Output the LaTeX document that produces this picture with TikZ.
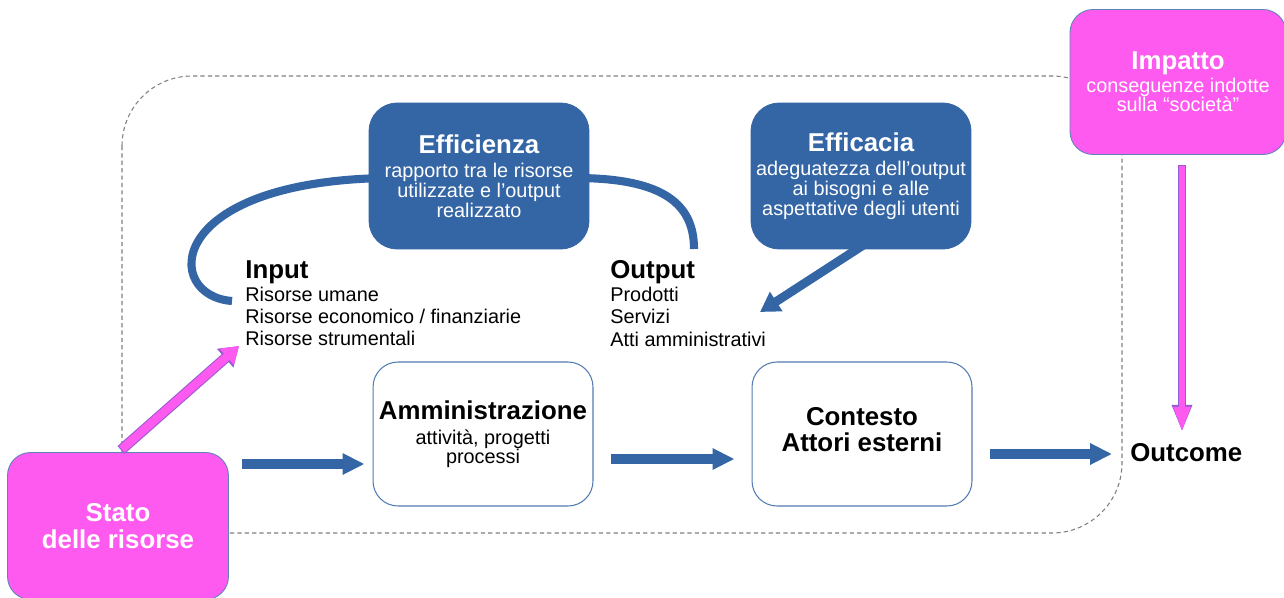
\documentclass[tikz,border=0pt]{standalone}
\usepackage{fontspec}
\setmainfont{Liberation Sans}
\usetikzlibrary{arrows.meta,calc}
\definecolor{eblue}{HTML}{3465A4}
\definecolor{epink}{RGB}{255,90,240}
\definecolor{pinkedge}{RGB}{150,90,210}
\definecolor{dgray}{RGB}{128,128,128}
\newcommand\ttlf{\fontsize{14.7}{15.5}\selectfont\bfseries}
\newcommand\bdyf{\fontsize{11.3}{11.3}\selectfont}
\newcommand\lstf{\fontsize{11.3}{12.7}\selectfont}
\begin{document}
\begin{tikzpicture}[x=0.02cm,y=-0.02cm,
  every node/.style={inner sep=0pt},
  bluebox/.style={fill=eblue, draw=eblue, rounded corners=0.56cm, minimum width=4.4cm, minimum height=2.92cm, align=center, text=white, font=\bdyf},
  pinkbox/.style={fill=epink, draw=eblue!80, line width=0.5pt, rounded corners=0.46cm, align=center, text=white},
  whitebox/.style={fill=white, draw=eblue!85, line width=0.6pt, rounded corners=0.5cm, minimum width=4.4cm, minimum height=2.88cm, align=center},
  blarrow/.style={draw=eblue, line width=6.2pt, -{Triangle[length=12.5pt,width=11.5pt]}},
  effarrow/.style={draw=eblue, line width=5pt, -{Triangle[length=11pt,width=12.5pt]}},
  arcline/.style={draw=eblue, line width=4.6pt},
  pinkouter/.style={draw=pinkedge, line width=#1},
  pinkinner/.style={draw=epink, line width=#1},
  frame/.style={draw=dgray, line width=0.6pt, dash pattern=on 2.4pt off 1.8pt, rounded corners=1.4cm},
  listtext/.style={anchor=north west, align=left, font=\lstf}
]
\useasboundingbox (0,0) rectangle (1284,598);
\fill[white] (0,0) rectangle (1284,598);

% dashed frame
\draw[frame] (122,76) rectangle (1122,533);

% coordinates for free ends
\coordinate (arcL) at (232,301);
\coordinate (arcR) at (694,249);

% arcs of efficiency (behind the box)
\draw[arcline] (arcL) .. controls (163,296) and (163,182) .. (385,178);
\draw[arcline] (575,178) .. controls (665,178) and (694,205) .. (arcR);

% boxes
\node[bluebox] (effz) at (479,176) {{\ttlf Efficienza}\\[2.5pt]rapporto tra le risorse\\utilizzate e l’output\\realizzato};
\node[bluebox] (effc) at (861,176) {{\ttlf Efficacia}\\[2.5pt]adeguatezza dell’output\\ai bisogni e alle\\aspettative degli utenti};

\node[pinkbox, minimum width=4.42cm, minimum height=2.94cm, font=\ttlf] (stato) at (118,526) {Stato\\delle risorse};
\node[pinkbox, minimum width=4.32cm, minimum height=2.9cm, font=\bdyf] (impatto) at (1178,82) {{\ttlf Impatto}\\[1.5pt]conseguenze indotte\\sulla “società”};

\node[whitebox, font=\fontsize{11.3}{10.6}\selectfont] (amm) at (483,434) {{\ttlf Amministrazione}\\[3.5pt]attività, progetti\\processi};
\node[whitebox] (cont) at (862,434) {};
\node[font=\fontsize{14.7}{14.7}\selectfont\bfseries, align=center] (conttext) at ($(cont.center)+(0,-4)$) {Contesto\\Attori esterni};

\node[listtext] (input) at (245,260) {{\ttlf Input}\\[0.5pt]Risorse umane\\Risorse economico / finanziarie\\Risorse strumentali};
\node[listtext] (output) at (610,260) {{\ttlf Output}\\[0.5pt]Prodotti\\Servizi\\Atti amministrativi};

\node[anchor=west, font=\ttlf] (outcome) at (1130,453) {Outcome};

% blue block arrows
\coordinate (a1s) at (242,464);
\coordinate (a2s) at (611,459);
\coordinate (a3s) at (990,454);
\draw[blarrow, shorten >=0.16cm] (a1s) -- (a1s -| amm.west);
\draw[blarrow, shorten >=0.34cm] (a2s) -- (a2s -| cont.west);
\draw[blarrow, shorten >=0.36cm] (a3s) -- (a3s -| outcome.west);

% efficacia arrow
\coordinate (efftip) at (760,312);
\draw[effarrow] ($(effc.south)+(2,-4)$) -- (efftip);

% pink arrows
\coordinate (ptip) at (239,346);
\coordinate (ptail) at (121,450);
\draw[pinkouter=6pt, -{Triangle[length=10.5pt,width=13.5pt]}] (ptail) -- (ptip);
\draw[pinkinner=4.8pt, -{Triangle[length=9.3pt,width=11.6pt]}, shorten <=0.6pt] (ptail) -- (ptip);

\coordinate (vtip) at (1182,432);
\draw[pinkouter=4.8pt, -{Triangle[length=15.5pt,width=10.6pt]}, shorten <=0.2cm] (vtip |- impatto.south) -- (vtip);
\draw[pinkinner=3.6pt, -{Triangle[length=14.3pt,width=8.8pt]}, shorten <=0.22cm] (vtip |- impatto.south) -- (vtip);
\end{tikzpicture}
\end{document}
